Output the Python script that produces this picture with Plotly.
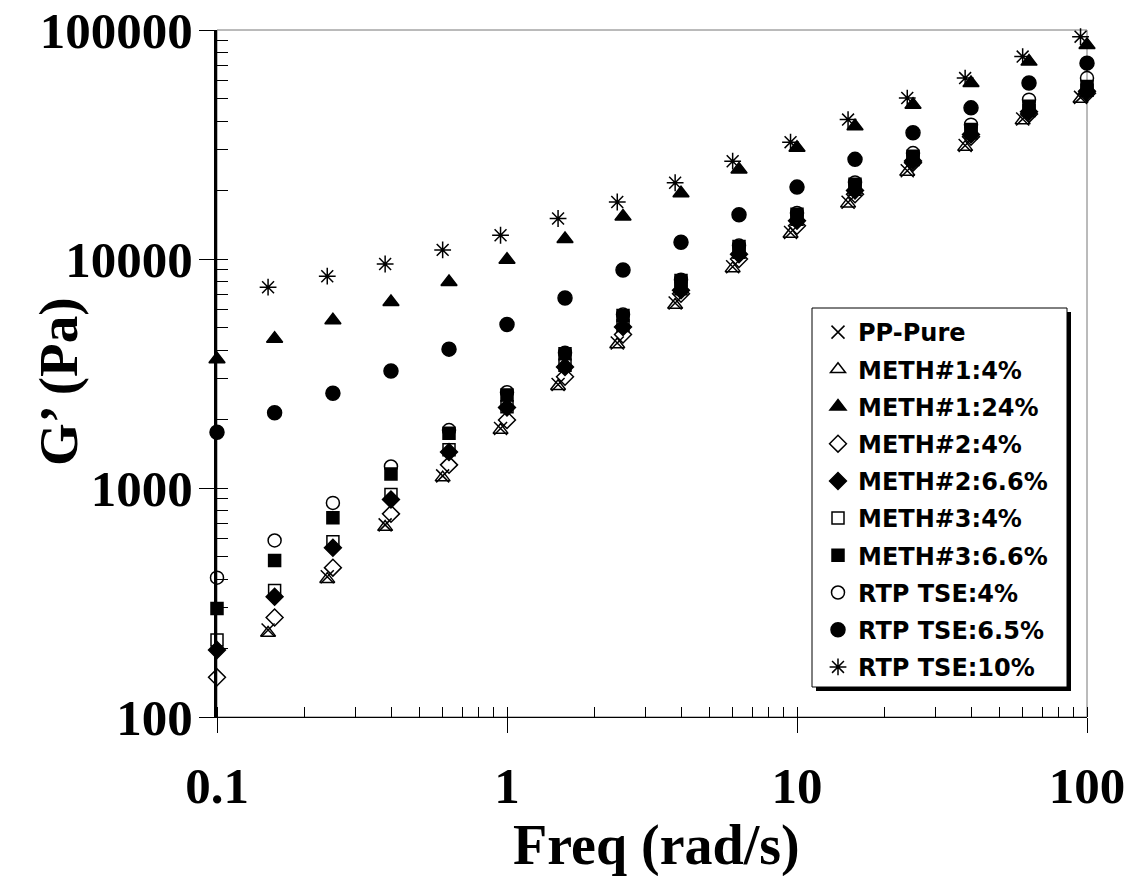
import plotly.graph_objects as go

# Frequencies (rad/s)
freq_a = [0.1, 0.158, 0.251, 0.398, 0.631, 1.0, 1.585, 2.512, 3.981, 6.31,
          10.0, 15.85, 25.12, 39.81, 63.1, 100.0]
freq_b = [0.15, 0.24, 0.38, 0.6, 0.95, 1.5, 2.4, 3.8, 6.0, 9.5,
          15.0, 24.0, 38.0, 60.0, 95.0]

# G' (Pa)
pp_pure = [240, 410, 690, 1130, 1820, 2830, 4300, 6420, 9250, 13050,
           17700, 24300, 31300, 40900, 50800]
meth1_4 = [233, 400, 675, 1110, 1790, 2780, 4230, 6300, 9100, 12850,
           17450, 24000, 30800, 40300, 50000]
meth1_24 = [3650, 4490, 5400, 6490, 7930, 9930, 12220, 15350, 19370, 24620,
            30600, 38010, 47220, 58650, 72780, 86080]
meth2_4 = [149, 272, 449, 771, 1262, 1982, 3060, 4680, 7050, 10000,
           13960, 19170, 26320, 34200, 43000, 53000]
meth2_66 = [196, 335, 548, 890, 1435, 2245, 3380, 5050, 7300, 10500,
            14700, 19900, 26800, 35000, 44000, 54000]
meth3_4 = [217, 357, 582, 936, 1470, 2265, 3440, 5130, 7410, 10700,
           14920, 20140, 27200, 35500, 44500, 54500]
meth3_66 = [298, 483, 741, 1151, 1733, 2550, 3860, 5670, 8050, 11350,
            15700, 21190, 28120, 36740, 46470, 56620]
rtp_4 = [406, 590, 861, 1242, 1790, 2620, 3900, 5720, 8120, 11450,
         15900, 21600, 29000, 38600, 49630, 61660]
rtp_65 = [1750, 2130, 2590, 3240, 4040, 5180, 6760, 8960, 11840, 15610,
          20600, 27230, 35560, 45710, 58650, 71660]
rtp_10 = [7530, 8410, 9510, 10960, 12700, 15030, 17740, 21530, 26730, 32370,
          40640, 50450, 61660, 76560, 93500]

series = [
    ("PP-Pure", freq_b, pp_pure, "x-thin-open", 13),
    ("METH#1:4%", freq_b, meth1_4, "triangle-up-open", 13),
    ("METH#1:24%", freq_a, meth1_24, "triangle-up", 14),
    ("METH#2:4%", freq_a, meth2_4, "diamond-open", 13),
    ("METH#2:6.6%", freq_a, meth2_66, "diamond", 13),
    ("METH#3:4%", freq_a, meth3_4, "square-open", 12),
    ("METH#3:6.6%", freq_a, meth3_66, "square", 12),
    ("RTP TSE:4%", freq_a, rtp_4, "circle-open", 13),
    ("RTP TSE:6.5%", freq_a, rtp_65, "circle", 14),
    ("RTP TSE:10%", freq_b, rtp_10, "asterisk-open", 14),
]

x_ticks = [0.1, 1, 10, 100]
x_ticktext = ["0.1", "1", "10", "100"]
y_ticks = [100, 1000, 10000, 100000]
y_ticktext = ["100", "1000", "10000", "100000"]

fig = go.Figure()
for i, (name, xs, ys, sym, sz) in enumerate(series):
    fig.add_trace(go.Scatter(
        x=xs, y=ys, name=name, mode="markers", cliponaxis=False,
        legendgroup=f"g{i}",
        marker=dict(symbol=sym, size=sz, color="black",
                    line=dict(color="black", width=1.5)),
    ))

minor_vals = []
for d in [0.1, 1, 10, 100, 1000, 10000]:
    for m in range(1, 10):
        minor_vals.append(round(d * m, 6))

serif = dict(family="Liberation Serif", size=51, color="black", weight="bold")

L, R, T, B = 217, 1087, 30, 717
W, H = 1130, 876
def px(xp):
    return (xp - L) / (R - L)
def py(yp):
    return (B - yp) / (B - T)

fig.update_layout(
    width=W, height=H,
    margin=dict(l=L, r=W - R, t=T, b=H - B),
    paper_bgcolor="white", plot_bgcolor="white",
    showlegend=True,
    xaxis=dict(type="log", range=[-1, 2], tickvals=x_ticks, ticktext=x_ticktext,
               ticks="outside", ticklen=15, tickwidth=1, tickcolor="black",
               showline=True, linecolor="black", linewidth=1,
               showgrid=False, zeroline=False, tickfont=serif,
               ticklabelstandoff=9, automargin=False,
               minor=dict(tickvals=minor_vals, ticks="inside", ticklen=10,
                          tickwidth=1, tickcolor="black", showgrid=False)),
    yaxis=dict(type="log", range=[2, 5], tickvals=y_ticks, ticktext=y_ticktext,
               ticks="outside", ticklen=15, tickwidth=1, tickcolor="black",
               showline=True, linecolor="black", linewidth=3,
               showgrid=False, zeroline=False, tickfont=serif,
               ticklabelstandoff=-4, automargin=False,
               minor=dict(tickvals=minor_vals, ticks="inside", ticklen=11,
                          tickwidth=1, tickcolor="black", showgrid=False)),
    legend=dict(x=px(818), y=py(310), xanchor="left", yanchor="top",
                bgcolor="rgba(0,0,0,0)", borderwidth=0,
                font=dict(family="DejaVu Sans", size=24, color="black",
                          weight="bold"),
                tracegroupgap=3, itemwidth=30, traceorder="grouped"),
    shapes=[
        dict(type="rect", xref="paper", yref="paper", x0=0, x1=1, y0=0, y1=1,
             line=dict(color="#777777", width=1), layer="below"),
        dict(type="rect", xref="paper", yref="paper",
             x0=px(816), x1=px(1071), y0=py(691), y1=py(312),
             fillcolor="black", line=dict(width=0), layer="above"),
        dict(type="rect", xref="paper", yref="paper",
             x0=px(812), x1=px(1067), y0=py(687), y1=py(308),
             fillcolor="white", line=dict(color="black", width=1), layer="above"),
    ],
    annotations=[
        dict(text="G’ (Pa)", xref="paper", yref="paper", x=px(58), y=py(382),
             textangle=-90, showarrow=False, xanchor="center", yanchor="middle",
             font=dict(family="Liberation Serif", size=55, color="black",
                       weight="bold")),
        dict(text="Freq (rad/s)", xref="paper", yref="paper", x=px(656), y=py(845),
             showarrow=False, xanchor="center", yanchor="middle",
             font=dict(family="Liberation Serif", size=56, color="black",
                       weight="bold")),
    ],
)

fig.write_html("out.html",
               config={"displayModeBar": False},
               post_script="document.body.style.margin='0';"
                           "document.body.style.overflow='hidden';")
